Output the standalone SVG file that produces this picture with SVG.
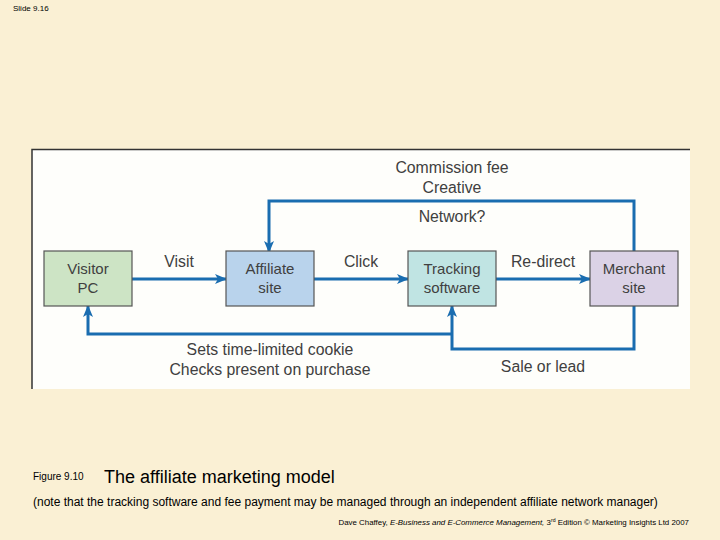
<svg xmlns="http://www.w3.org/2000/svg" width="720" height="540" viewBox="0 0 720 540">
<defs>
<marker id="ah" viewBox="0 0 12 10" refX="11" refY="5" markerWidth="12" markerHeight="10" markerUnits="userSpaceOnUse" orient="auto">
<path d="M0,0 L12,5 L0,10 L3,5 Z" fill="#1a6db0"/>
</marker>
<style>
.box{stroke:#555;stroke-width:1.2}
.lbl{font-family:"Liberation Sans",Arial,sans-serif;font-size:15px;fill:#404040;text-anchor:middle}
.big{font-size:15.8px}
.ln{fill:none;stroke:#1a6db0;stroke-width:3}
.ar{marker-end:url(#ah)}
.cap{font-family:"Liberation Sans",Arial,sans-serif;fill:#000}
</style>
</defs>
<rect x="0" y="0" width="720" height="540" fill="#faf0d4"/>
<text x="13" y="11" class="cap" font-size="8">Slide 9.16</text>
<rect x="32" y="149" width="658" height="240" fill="#fefefb"/>
<path d="M32,389 V149.5 H690" fill="none" stroke="#333" stroke-width="1.5"/>
<g id="connectors">
<line class="ln ar" x1="132" y1="279" x2="226" y2="279"/>
<line class="ln ar" x1="314" y1="279" x2="408" y2="279"/>
<line class="ln ar" x1="496" y1="279" x2="590" y2="279"/>
<polyline class="ln ar" points="634,252 634,201 269,201 269,252"/>
<polyline class="ln ar" points="634,306 634,349 452,349 452,306"/>
<polyline class="ln ar" points="452,334 88,334 88,306"/>
</g>
<g id="visitor">
<rect class="box" x="44" y="251" width="88" height="55" fill="#cde4c5"/>
<text class="lbl" x="88" y="274">Visitor</text>
<text class="lbl" x="88" y="293">PC</text>
</g>
<g id="affiliate">
<rect class="box" x="226" y="251" width="88" height="55" fill="#b9d3ec"/>
<text class="lbl" x="270" y="274">Affiliate</text>
<text class="lbl" x="270" y="293">site</text>
</g>
<g id="tracking">
<rect class="box" x="408" y="251" width="88" height="55" fill="#c0e4e3"/>
<text class="lbl" x="452" y="274">Tracking</text>
<text class="lbl" x="452" y="293">software</text>
</g>
<g id="merchant">
<rect class="box" x="590" y="251" width="88" height="55" fill="#dbd2e6"/>
<text class="lbl" x="634" y="274">Merchant</text>
<text class="lbl" x="634" y="293">site</text>
</g>
<g id="labels">
<text class="lbl big" x="452" y="173">Commission fee</text>
<text class="lbl big" x="452" y="193">Creative</text>
<text class="lbl big" x="452" y="222">Network?</text>
<text class="lbl big" x="179" y="267">Visit</text>
<text class="lbl big" x="361" y="267">Click</text>
<text class="lbl big" x="543" y="267">Re-direct</text>
<text class="lbl big" x="270" y="355">Sets time-limited cookie</text>
<text class="lbl big" x="270" y="375">Checks present on purchase</text>
<text class="lbl big" x="543" y="372">Sale or lead</text>
</g>
<text x="33" y="480" class="cap" font-size="10">Figure 9.10</text>
<text x="104" y="483" class="cap" font-size="18">The affiliate marketing model</text>
<text x="33" y="506" class="cap" font-size="12">(note that the tracking software and fee payment may be managed through an independent affiliate network manager)</text>
<text x="689" y="525" class="cap" font-size="7.9" text-anchor="end">Dave Chaffey, <tspan font-style="italic">E-Business and E-Commerce Management,</tspan> 3<tspan font-size="5.2" dy="-3">rd</tspan><tspan dy="3"> Edition © Marketing Insights Ltd 2007</tspan></text>
</svg>
